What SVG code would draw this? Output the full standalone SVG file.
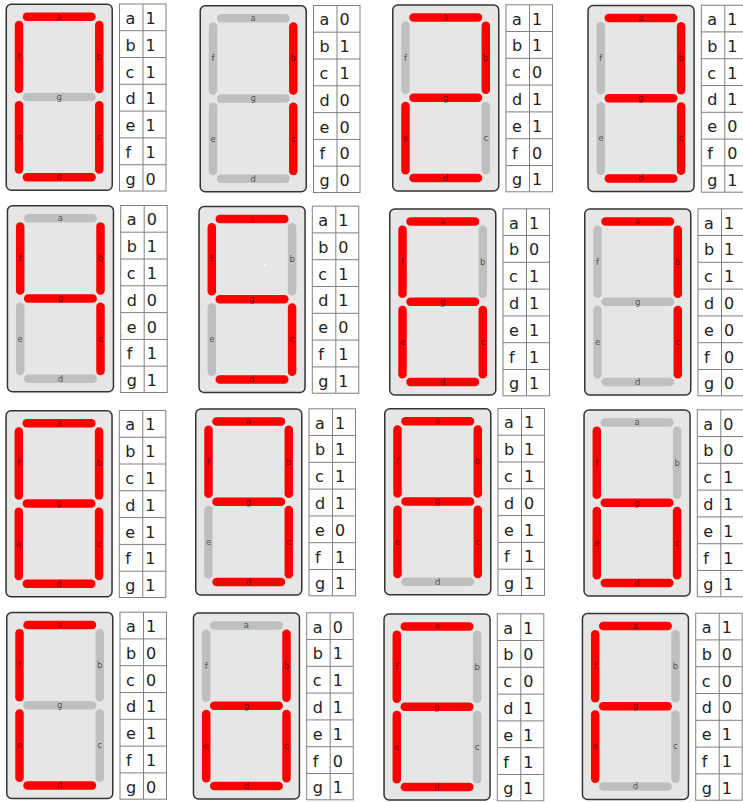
<svg xmlns="http://www.w3.org/2000/svg" xmlns:xlink="http://www.w3.org/1999/xlink" width="743" height="802" viewBox="0 0 743 802">
<style>
.box{fill:#e6e6e6;stroke:#333;stroke-width:1.5}
.seg{stroke-width:8.5;stroke-linecap:round;fill:none}
.on{stroke:#ff0000}
.off{stroke:#bfbfbf}
.lb{font-family:"DejaVu Sans",sans-serif;font-size:8.5px;fill:#000;fill-opacity:.62;text-anchor:middle}
.grid{fill:#fff;stroke:#808080;stroke-width:1}
.t{font-family:"DejaVu Sans",sans-serif;font-size:16px;fill:#222}
</style>
<defs>
<line id="sa" class="seg" x1="21.5" y1="13.3" x2="86" y2="13.3"/>
<line id="sb" class="seg" x1="93.8" y1="21.5" x2="93.8" y2="85.5"/>
<line id="sc" class="seg" x1="93.8" y1="101.8" x2="93.8" y2="166"/>
<line id="sd" class="seg" x1="21.5" y1="173.8" x2="86" y2="173.8"/>
<line id="se" class="seg" x1="13.5" y1="101.8" x2="13.5" y2="166"/>
<line id="sf" class="seg" x1="13.5" y1="21.5" x2="13.5" y2="85.5"/>
<line id="sg" class="seg" x1="21.5" y1="93.5" x2="86" y2="93.5"/>
<g id="lbl">
<text class="lb" x="53.7" y="16">a</text>
<text class="lb" x="93.8" y="56.4">b</text>
<text class="lb" x="93.8" y="136.7">c</text>
<text class="lb" x="53.7" y="176.6">d</text>
<text class="lb" x="13.5" y="136.7">e</text>
<text class="lb" x="13.5" y="56.4">f</text>
<text class="lb" x="53.7" y="96.3">g</text>
</g>
<g id="tbl">
<rect class="grid" x="0.5" y="0.5" width="46.5" height="187"/>
<path d="M24 0.5V187.5M0.5 27.2H47M0.5 54H47M0.5 80.8H47M0.5 107.6H47M0.5 134.4H47M0.5 161.2H47" stroke="#808080" stroke-width="1" fill="none"/>
<text class="t" x="6.5" y="20.4">a</text>
<text class="t" x="6.5" y="47.2">b</text>
<text class="t" x="6.5" y="74">c</text>
<text class="t" x="6.5" y="100.8">d</text>
<text class="t" x="6.5" y="127.6">e</text>
<text class="t" x="6.5" y="154.4">f</text>
<text class="t" x="6.5" y="181.1">g</text>
</g>
</defs>

<g id="digit-0" transform="translate(5.5,3.5)">
<rect class="box" x="0.75" y="0.75" width="106" height="186" rx="5"/>
<use href="#sa" class="on"/><use href="#sb" class="on"/><use href="#sc" class="on"/><use href="#sd" class="on"/><use href="#se" class="on"/><use href="#sf" class="on"/><use href="#sg" class="off"/>
<use href="#lbl"/>
<g transform="translate(113.5,0)"><use href="#tbl"/>
<text class="t" x="26.5" y="20.4">1</text><text class="t" x="26.5" y="47.2">1</text><text class="t" x="26.5" y="74">1</text><text class="t" x="26.5" y="100.8">1</text><text class="t" x="26.5" y="127.6">1</text><text class="t" x="26.5" y="154.4">1</text><text class="t" x="26.5" y="181.1">0</text></g>
</g>

<g id="digit-1" transform="translate(199.5,5)">
<rect class="box" x="0.75" y="0.75" width="106" height="186" rx="5"/>
<use href="#sa" class="off"/><use href="#sb" class="on"/><use href="#sc" class="on"/><use href="#sd" class="off"/><use href="#se" class="off"/><use href="#sf" class="off"/><use href="#sg" class="off"/>
<use href="#lbl"/>
<g transform="translate(113.5,0)"><use href="#tbl"/>
<text class="t" x="26.5" y="20.4">0</text><text class="t" x="26.5" y="47.2">1</text><text class="t" x="26.5" y="74">1</text><text class="t" x="26.5" y="100.8">0</text><text class="t" x="26.5" y="127.6">0</text><text class="t" x="26.5" y="154.4">0</text><text class="t" x="26.5" y="181.1">0</text></g>
</g>

<g id="digit-2" transform="translate(392,4.3)">
<rect class="box" x="0.75" y="0.75" width="106" height="186" rx="5"/>
<use href="#sa" class="on"/><use href="#sb" class="on"/><use href="#sc" class="off"/><use href="#sd" class="on"/><use href="#se" class="on"/><use href="#sf" class="off"/><use href="#sg" class="on"/>
<use href="#lbl"/>
<g transform="translate(113.5,0)"><use href="#tbl"/>
<text class="t" x="26.5" y="20.4">1</text><text class="t" x="26.5" y="47.2">1</text><text class="t" x="26.5" y="74">0</text><text class="t" x="26.5" y="100.8">1</text><text class="t" x="26.5" y="127.6">1</text><text class="t" x="26.5" y="154.4">0</text><text class="t" x="26.5" y="181.1">1</text></g>
</g>

<g id="digit-3" transform="translate(587.3,4.7)">
<rect class="box" x="0.75" y="0.75" width="106" height="186" rx="5"/>
<use href="#sa" class="on"/><use href="#sb" class="on"/><use href="#sc" class="on"/><use href="#sd" class="on"/><use href="#se" class="off"/><use href="#sf" class="off"/><use href="#sg" class="on"/>
<use href="#lbl"/>
<g transform="translate(113.5,0)"><use href="#tbl"/>
<text class="t" x="26.5" y="20.4">1</text><text class="t" x="26.5" y="47.2">1</text><text class="t" x="26.5" y="74">1</text><text class="t" x="26.5" y="100.8">1</text><text class="t" x="26.5" y="127.6">0</text><text class="t" x="26.5" y="154.4">0</text><text class="t" x="26.5" y="181.1">1</text></g>
</g>

<g id="digit-4" transform="translate(6.7,205)">
<rect class="box" x="0.75" y="0.75" width="106" height="186" rx="5"/>
<use href="#sa" class="off"/><use href="#sb" class="on"/><use href="#sc" class="on"/><use href="#sd" class="off"/><use href="#se" class="off"/><use href="#sf" class="on"/><use href="#sg" class="on"/>
<use href="#lbl"/>
<g transform="translate(113.5,0)"><use href="#tbl"/>
<text class="t" x="26.5" y="20.4">0</text><text class="t" x="26.5" y="47.2">1</text><text class="t" x="26.5" y="74">1</text><text class="t" x="26.5" y="100.8">0</text><text class="t" x="26.5" y="127.6">0</text><text class="t" x="26.5" y="154.4">1</text><text class="t" x="26.5" y="181.1">1</text></g>
</g>

<g id="digit-5" transform="translate(198.3,205.7)">
<rect class="box" x="0.75" y="0.75" width="106" height="186" rx="5"/>
<use href="#sa" class="on"/><use href="#sb" class="off"/><use href="#sc" class="on"/><use href="#sd" class="on"/><use href="#se" class="off"/><use href="#sf" class="on"/><use href="#sg" class="on"/>
<use href="#lbl"/>
<circle cx="66.7" cy="59.3" r="1" fill="#fff"/>
<g transform="translate(113.5,0)"><use href="#tbl"/>
<text class="t" x="26.5" y="20.4">1</text><text class="t" x="26.5" y="47.2">0</text><text class="t" x="26.5" y="74">1</text><text class="t" x="26.5" y="100.8">1</text><text class="t" x="26.5" y="127.6">0</text><text class="t" x="26.5" y="154.4">1</text><text class="t" x="26.5" y="181.1">1</text></g>
</g>

<g id="digit-6" transform="translate(389,208.3)">
<rect class="box" x="0.75" y="0.75" width="106" height="186" rx="5"/>
<use href="#sa" class="on"/><use href="#sb" class="off"/><use href="#sc" class="on"/><use href="#sd" class="on"/><use href="#se" class="on"/><use href="#sf" class="on"/><use href="#sg" class="on"/>
<use href="#lbl"/>
<g transform="translate(113.5,0)"><use href="#tbl"/>
<text class="t" x="26.5" y="20.4">1</text><text class="t" x="26.5" y="47.2">0</text><text class="t" x="26.5" y="74">1</text><text class="t" x="26.5" y="100.8">1</text><text class="t" x="26.5" y="127.6">1</text><text class="t" x="26.5" y="154.4">1</text><text class="t" x="26.5" y="181.1">1</text></g>
</g>

<g id="digit-7" transform="translate(584,208.3)">
<rect class="box" x="0.75" y="0.75" width="106" height="186" rx="5"/>
<use href="#sa" class="on"/><use href="#sb" class="on"/><use href="#sc" class="on"/><use href="#sd" class="off"/><use href="#se" class="off"/><use href="#sf" class="off"/><use href="#sg" class="off"/>
<use href="#lbl"/>
<g transform="translate(113.5,0)"><use href="#tbl"/>
<text class="t" x="26.5" y="20.4">1</text><text class="t" x="26.5" y="47.2">1</text><text class="t" x="26.5" y="74">1</text><text class="t" x="26.5" y="100.8">0</text><text class="t" x="26.5" y="127.6">0</text><text class="t" x="26.5" y="154.4">0</text><text class="t" x="26.5" y="181.1">0</text></g>
</g>

<g id="digit-8" transform="translate(5.3,410)">
<rect class="box" x="0.75" y="0.75" width="106" height="186" rx="5"/>
<use href="#sa" class="on"/><use href="#sb" class="on"/><use href="#sc" class="on"/><use href="#sd" class="on"/><use href="#se" class="on"/><use href="#sf" class="on"/><use href="#sg" class="on"/>
<use href="#lbl"/>
<g transform="translate(113.5,0)"><use href="#tbl"/>
<text class="t" x="26.5" y="20.4">1</text><text class="t" x="26.5" y="47.2">1</text><text class="t" x="26.5" y="74">1</text><text class="t" x="26.5" y="100.8">1</text><text class="t" x="26.5" y="127.6">1</text><text class="t" x="26.5" y="154.4">1</text><text class="t" x="26.5" y="181.1">1</text></g>
</g>

<g id="digit-9" transform="translate(195,408.3)">
<rect class="box" x="0.75" y="0.75" width="106" height="186" rx="5"/>
<use href="#sa" class="on"/><use href="#sb" class="on"/><use href="#sc" class="on"/><use href="#sd" class="on"/><use href="#se" class="off"/><use href="#sf" class="on"/><use href="#sg" class="on"/>
<use href="#lbl"/>
<g transform="translate(113.5,0)"><use href="#tbl"/>
<text class="t" x="26.5" y="20.4">1</text><text class="t" x="26.5" y="47.2">1</text><text class="t" x="26.5" y="74">1</text><text class="t" x="26.5" y="100.8">1</text><text class="t" x="26.5" y="127.6">0</text><text class="t" x="26.5" y="154.4">1</text><text class="t" x="26.5" y="181.1">1</text></g>
</g>

<g id="digit-A" transform="translate(384,408)">
<rect class="box" x="0.75" y="0.75" width="106" height="186" rx="5"/>
<use href="#sa" class="on"/><use href="#sb" class="on"/><use href="#sc" class="on"/><use href="#sd" class="off"/><use href="#se" class="on"/><use href="#sf" class="on"/><use href="#sg" class="on"/>
<use href="#lbl"/>
<g transform="translate(113.5,0)"><use href="#tbl"/>
<text class="t" x="26.5" y="20.4">1</text><text class="t" x="26.5" y="47.2">1</text><text class="t" x="26.5" y="74">1</text><text class="t" x="26.5" y="100.8">0</text><text class="t" x="26.5" y="127.6">1</text><text class="t" x="26.5" y="154.4">1</text><text class="t" x="26.5" y="181.1">1</text></g>
</g>

<g id="digit-b" transform="translate(583.3,409.3)">
<rect class="box" x="0.75" y="0.75" width="106" height="186" rx="5"/>
<use href="#sa" class="off"/><use href="#sb" class="off"/><use href="#sc" class="on"/><use href="#sd" class="on"/><use href="#se" class="on"/><use href="#sf" class="on"/><use href="#sg" class="on"/>
<use href="#lbl"/>
<g transform="translate(113.5,0)"><use href="#tbl"/>
<text class="t" x="26.5" y="20.4">0</text><text class="t" x="26.5" y="47.2">0</text><text class="t" x="26.5" y="74">1</text><text class="t" x="26.5" y="100.8">1</text><text class="t" x="26.5" y="127.6">1</text><text class="t" x="26.5" y="154.4">1</text><text class="t" x="26.5" y="181.1">1</text></g>
</g>

<g id="digit-C" transform="translate(6,611.7)">
<rect class="box" x="0.75" y="0.75" width="106" height="186" rx="5"/>
<use href="#sa" class="on"/><use href="#sb" class="off"/><use href="#sc" class="off"/><use href="#sd" class="on"/><use href="#se" class="on"/><use href="#sf" class="on"/><use href="#sg" class="off"/>
<use href="#lbl"/>
<g transform="translate(113.5,0)"><use href="#tbl"/>
<text class="t" x="26.5" y="20.4">1</text><text class="t" x="26.5" y="47.2">0</text><text class="t" x="26.5" y="74">0</text><text class="t" x="26.5" y="100.8">1</text><text class="t" x="26.5" y="127.6">1</text><text class="t" x="26.5" y="154.4">1</text><text class="t" x="26.5" y="181.1">0</text></g>
</g>

<g id="digit-d" transform="translate(192.7,612.3)">
<rect class="box" x="0.75" y="0.75" width="106" height="186" rx="5"/>
<use href="#sa" class="off"/><use href="#sb" class="on"/><use href="#sc" class="on"/><use href="#sd" class="on"/><use href="#se" class="on"/><use href="#sf" class="off"/><use href="#sg" class="on"/>
<use href="#lbl"/>
<g transform="translate(113.5,0)"><use href="#tbl"/>
<text class="t" x="26.5" y="20.4">0</text><text class="t" x="26.5" y="47.2">1</text><text class="t" x="26.5" y="74">1</text><text class="t" x="26.5" y="100.8">1</text><text class="t" x="26.5" y="127.6">1</text><text class="t" x="26.5" y="154.4">0</text><text class="t" x="26.5" y="181.1">1</text></g>
</g>

<g id="digit-E" transform="translate(383.3,613.3)">
<rect class="box" x="0.75" y="0.75" width="106" height="186" rx="5"/>
<use href="#sa" class="on"/><use href="#sb" class="off"/><use href="#sc" class="off"/><use href="#sd" class="on"/><use href="#se" class="on"/><use href="#sf" class="on"/><use href="#sg" class="on"/>
<use href="#lbl"/>
<g transform="translate(113.5,0)"><use href="#tbl"/>
<text class="t" x="26.5" y="20.4">1</text><text class="t" x="26.5" y="47.2">0</text><text class="t" x="26.5" y="74">0</text><text class="t" x="26.5" y="100.8">1</text><text class="t" x="26.5" y="127.6">1</text><text class="t" x="26.5" y="154.4">1</text><text class="t" x="26.5" y="181.1">1</text></g>
</g>

<g id="digit-F" transform="translate(581.7,612.7)">
<rect class="box" x="0.75" y="0.75" width="106" height="186" rx="5"/>
<use href="#sa" class="on"/><use href="#sb" class="off"/><use href="#sc" class="off"/><use href="#sd" class="off"/><use href="#se" class="on"/><use href="#sf" class="on"/><use href="#sg" class="on"/>
<use href="#lbl"/>
<g transform="translate(113.5,0)"><use href="#tbl"/>
<text class="t" x="26.5" y="20.4">1</text><text class="t" x="26.5" y="47.2">0</text><text class="t" x="26.5" y="74">0</text><text class="t" x="26.5" y="100.8">0</text><text class="t" x="26.5" y="127.6">1</text><text class="t" x="26.5" y="154.4">1</text><text class="t" x="26.5" y="181.1">1</text></g>
</g>
</svg>
